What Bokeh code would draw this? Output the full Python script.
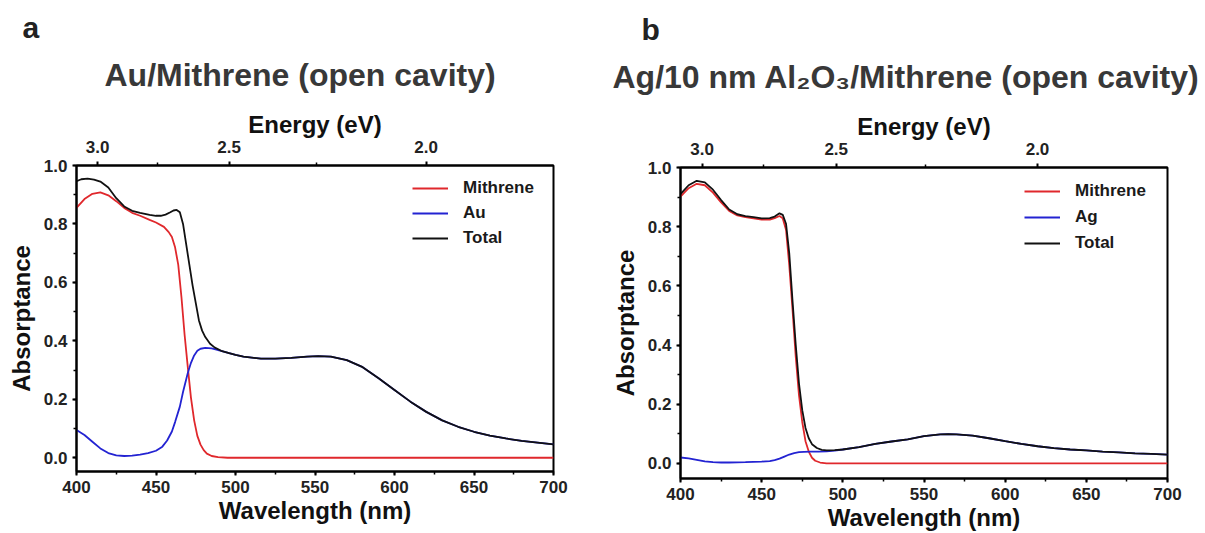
from bokeh.plotting import figure
from bokeh.models import (Range1d, LinearAxis, FixedTicker, SingleIntervalTicker,
                          Legend, LegendItem, PrintfTickFormatter, Title)
from bokeh.layouts import row
from bokeh.embed import file_html
from bokeh.resources import INLINE

FONT = "Liberation Sans"

# ---------------- data: panel a (Au / Mithrene) ----------------
au_mith_wl = [400, 405, 410, 415, 420, 425, 430, 435, 440, 446, 450, 455, 458, 460, 462, 464,
              466, 468, 470, 472, 474, 476, 478, 480, 482, 485, 489, 495, 550, 600, 650, 700]
au_mith = [0.855, 0.885, 0.903, 0.908, 0.898, 0.878, 0.855, 0.838, 0.828, 0.814, 0.805, 0.790,
           0.772, 0.755, 0.720, 0.660, 0.550, 0.420, 0.310, 0.205, 0.128, 0.075, 0.045, 0.026,
           0.014, 0.006, 0.002, 0.0, 0.0, 0.0, 0.0, 0.0]

au_metal_wl = [400, 405, 410, 415, 420, 425, 430, 435, 440, 445, 450, 454, 457, 460, 462, 465,
               467, 470, 472, 474, 476, 478, 481, 485, 488, 492, 496, 500, 505, 516, 525, 535,
               545, 552, 560, 570, 580, 590, 600, 610, 620, 630, 640, 650, 660, 670, 680, 690, 700]
au_metal = [0.095, 0.078, 0.055, 0.032, 0.016, 0.008, 0.006, 0.007, 0.011, 0.016, 0.024, 0.038,
            0.059, 0.090, 0.122, 0.175, 0.225, 0.290, 0.325, 0.350, 0.366, 0.373, 0.376, 0.374,
            0.370, 0.364, 0.358, 0.352, 0.346, 0.339, 0.339, 0.342, 0.346, 0.348, 0.346, 0.334,
            0.310, 0.272, 0.232, 0.192, 0.157, 0.128, 0.106, 0.089, 0.076, 0.066, 0.058, 0.052, 0.046]

au_total_wl = [400, 403, 407, 411, 415, 420, 425, 430, 435, 440, 446, 450, 453, 456, 459, 461,
               463, 465, 467, 469, 471, 473, 475, 477, 479, 481, 484, 487, 491, 496, 500, 505,
               516, 525, 535, 545, 552, 560, 570, 580, 590, 600, 610, 620, 630, 640, 650, 660,
               670, 680, 690, 700]
au_total = [0.946, 0.953, 0.955, 0.952, 0.945, 0.925, 0.888, 0.860, 0.845, 0.838, 0.831, 0.828,
            0.828, 0.832, 0.840, 0.846, 0.848, 0.840, 0.800, 0.730, 0.660, 0.590, 0.530, 0.470,
            0.435, 0.413, 0.390, 0.377, 0.366, 0.358, 0.352, 0.346, 0.339, 0.339, 0.342, 0.346,
            0.348, 0.346, 0.334, 0.310, 0.272, 0.232, 0.192, 0.157, 0.128, 0.106, 0.089, 0.076,
            0.066, 0.058, 0.052, 0.046]

# ---------------- data: panel b (Ag / 10 nm Al2O3 / Mithrene) ----------------
ag_mith_wl = [400, 405, 410, 415, 420, 425, 430, 435, 440, 445, 450, 455, 458, 461, 463, 465,
              467, 469, 471, 473, 475, 477, 479, 481, 483, 486, 490, 700]
ag_mith = [0.902, 0.930, 0.945, 0.940, 0.915, 0.882, 0.853, 0.838, 0.832, 0.828, 0.824, 0.824,
           0.829, 0.836, 0.828, 0.790, 0.670, 0.520, 0.360, 0.230, 0.140, 0.075, 0.040, 0.019,
           0.009, 0.003, 0.0, 0.0]

ag_metal_wl = [400, 405, 410, 415, 420, 425, 430, 440, 450, 455, 458, 461, 464, 467, 470, 473,
               476, 480, 485, 490, 495, 500, 510, 520, 530, 540, 550, 560, 565, 570, 580, 590,
               600, 610, 620, 630, 640, 650, 660, 670, 680, 690, 700]
ag_metal = [0.020, 0.017, 0.012, 0.007, 0.004, 0.003, 0.003, 0.004, 0.006, 0.008, 0.011, 0.016,
            0.023, 0.030, 0.035, 0.038, 0.039, 0.040, 0.040, 0.041, 0.043, 0.047, 0.055, 0.066,
            0.074, 0.081, 0.092, 0.098, 0.099, 0.098, 0.094, 0.085, 0.075, 0.066, 0.058, 0.052,
            0.047, 0.044, 0.040, 0.037, 0.034, 0.032, 0.030]

ag_total_wl = [400, 405, 410, 415, 420, 425, 430, 435, 440, 445, 450, 455, 458, 461, 463, 465,
               467, 469, 471, 473, 475, 477, 479, 481, 484, 487, 490, 495, 500, 510, 520, 530,
               540, 550, 560, 565, 570, 580, 590, 600, 610, 620, 630, 640, 650, 660, 670, 680,
               690, 700]
ag_total = [0.910, 0.940, 0.955, 0.950, 0.925, 0.890, 0.858, 0.842, 0.836, 0.832, 0.828, 0.829,
            0.834, 0.845, 0.840, 0.810, 0.710, 0.550, 0.400, 0.270, 0.180, 0.120, 0.085, 0.065,
            0.052, 0.046, 0.044, 0.045, 0.047, 0.055, 0.066, 0.074, 0.081, 0.092, 0.098, 0.099,
            0.098, 0.094, 0.085, 0.075, 0.066, 0.058, 0.052, 0.047, 0.044, 0.040, 0.037, 0.034,
            0.032, 0.030]

# ---------------- axis tick labels ----------------
energy_major = [3.0, 2.5, 2.0]
energy_minor = [2.75, 2.25]
energy_labels = ["3.0", "2.5", "2.0"]
HC = 1239.84  # eV*nm

RED = "#e0282c"
BLUE = "#2323d2"
BLACK = "#111111"
TITLE_GRAY = "#383838"


def style_axis(ax):
    ax.axis_line_width = 2
    ax.axis_line_color = "black"
    ax.major_tick_line_width = 2
    ax.minor_tick_line_width = 1.5
    ax.major_tick_line_color = "black"
    ax.minor_tick_line_color = "black"
    ax.major_tick_out = 4
    ax.major_tick_in = 0
    ax.minor_tick_out = 3
    ax.minor_tick_in = 0
    ax.major_label_text_font = FONT
    ax.major_label_text_font_style = "bold"
    ax.major_label_text_font_size = "17px"
    ax.major_label_text_color = "#222222"
    ax.axis_label_text_font = FONT
    ax.axis_label_text_font_style = "bold"
    ax.axis_label_text_font_size = "24px"
    ax.axis_label_text_color = "#111111"
    ax.major_label_standoff = 5


def make_panel(width, height, left, right, top, bottom, ymin, series, metal_name, legend_xy,
               letter, title_text, title_offset, letter_offset, title_standoff, legend_spacing):
    p = figure(width=width, height=height, x_range=Range1d(400, 700), y_range=Range1d(ymin, 1.0),
               toolbar_location=None, output_backend="svg",
               min_border_left=left, min_border_right=right,
               min_border_top=top, min_border_bottom=bottom)
    p.frame_align = False
    p.grid.visible = False
    p.outline_line_color = "black"
    p.outline_line_width = 2
    p.outline_line_alpha = 1.0
    p.background_fill_color = "white"
    p.border_fill_color = "white"

    p.xaxis.ticker = SingleIntervalTicker(interval=50, num_minor_ticks=2)
    p.yaxis.ticker = SingleIntervalTicker(interval=0.2, num_minor_ticks=2)
    p.yaxis.formatter = PrintfTickFormatter(format="%.1f")
    p.yaxis.axis_label = "Absorptance"
    p.xaxis.axis_label = "Wavelength (nm)"
    for ax in list(p.xaxis) + list(p.yaxis):
        style_axis(ax)
    p.yaxis.axis_label_standoff = 6
    p.xaxis.axis_label_standoff = 1

    top_ax = LinearAxis(
        ticker=FixedTicker(ticks=[HC / e for e in energy_major],
                           minor_ticks=[HC / e for e in energy_minor]),
        major_label_overrides={HC / e: lab for e, lab in zip(energy_major, energy_labels)},
        axis_label="Energy (eV)")
    style_axis(top_ax)
    top_ax.major_label_standoff = 9
    top_ax.axis_label_standoff = 0
    p.add_layout(top_ax, "above")

    p.add_layout(Title(text=title_text, align="left", offset=title_offset,
                       standoff=title_standoff, vertical_align="top",
                       text_font=FONT, text_font_size="32px", text_font_style="bold",
                       text_color=TITLE_GRAY), "above")
    p.add_layout(Title(text=letter, align="left", offset=letter_offset, standoff=0,
                       vertical_align="bottom", text_font=FONT, text_font_size="30px",
                       text_font_style="bold", text_color="#222222"), "above")

    (mwl, mv), (bwl, bv), (twl, tv) = series
    r1 = p.line(mwl, mv, line_color=RED, line_width=1.8)
    r2 = p.line(bwl, bv, line_color=BLUE, line_width=1.8)
    r3 = p.line(twl, tv, line_color=BLACK, line_width=1.8)

    legend = Legend(items=[LegendItem(label="Mithrene", renderers=[r1]),
                           LegendItem(label=metal_name, renderers=[r2]),
                           LegendItem(label="Total", renderers=[r3])],
                    location=legend_xy, border_line_color=None, background_fill_alpha=0,
                    padding=0, margin=0, spacing=legend_spacing, glyph_width=36,
                    glyph_height=20, label_height=20, label_standoff=15, label_text_font=FONT,
                    label_text_font_style="bold", label_text_font_size="17px",
                    label_text_color="#1a1a1a")
    p.add_layout(legend)
    return p


# ----- panel a -----
pa = make_panel(600, 533, 76, 47, 165, 62, -0.047,
                [(au_mith_wl, au_mith), (au_metal_wl, au_metal), (au_total_wl, au_total)],
                "Au", (336, 223), "a", "Au/Mithrene (open cavity)", 104 - 76, 22 - 76, 26, 5)

# ----- panel b -----
pb = make_panel(605, 533, 80, 38, 167, 52, -0.051,
                [(ag_mith_wl, ag_mith), (ag_metal_wl, ag_metal), (ag_total_wl, ag_total)],
                "Ag", (344, 225), "b", "Ag/10 nm Al\u2082O\u2083/Mithrene (open cavity)",
                612 - 680, 641 - 680, 26, 6)

layout = row(pa, pb)
open("out.html", "w").write(file_html(layout, INLINE))
